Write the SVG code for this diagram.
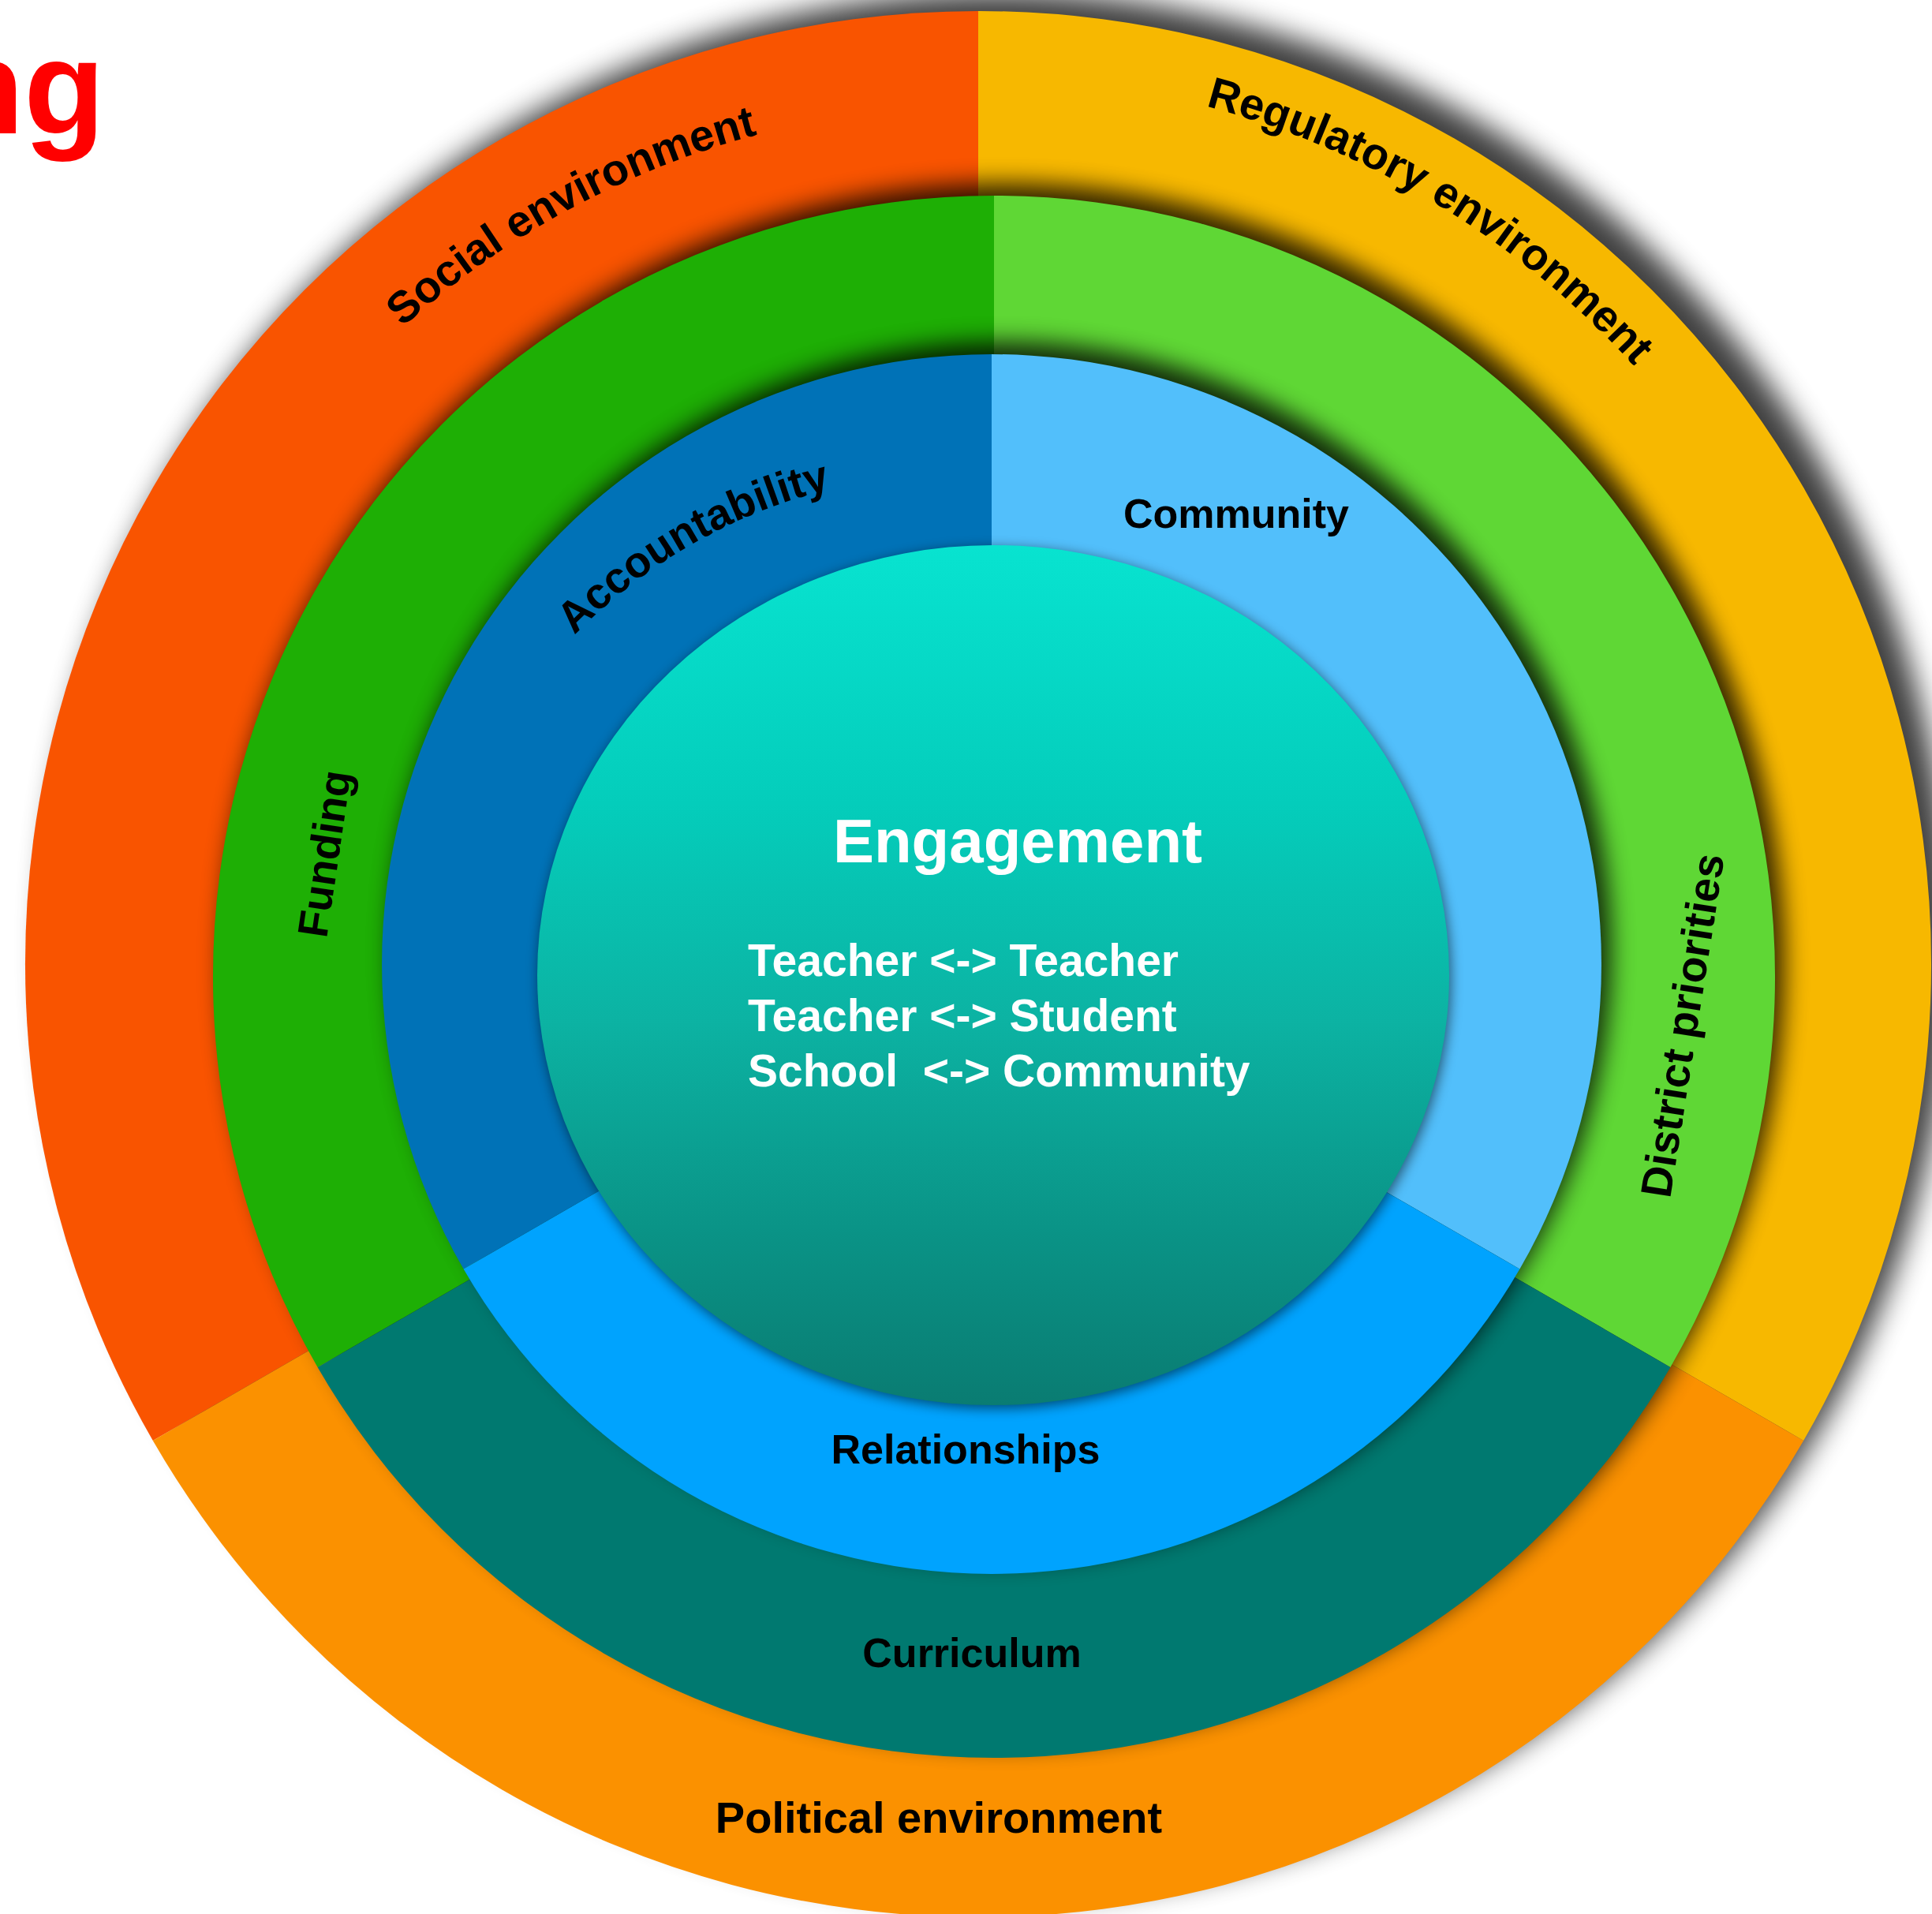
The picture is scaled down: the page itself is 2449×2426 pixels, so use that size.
<svg xmlns="http://www.w3.org/2000/svg" width="2449" height="2426" viewBox="0 0 2449 2426">
<defs>
<style>
.lbl{font-family:"Liberation Sans",Arial,Helvetica,sans-serif;font-weight:bold;fill:#000}
.wht{font-family:"Liberation Sans",Arial,Helvetica,sans-serif;font-weight:bold;fill:#fff}
.shd{fill:#000}
</style>
<filter id="b18" x="-10%" y="-10%" width="120%" height="120%"><feGaussianBlur stdDeviation="18"/></filter>
<filter id="b14" x="-10%" y="-10%" width="120%" height="120%"><feGaussianBlur stdDeviation="15"/></filter>
<filter id="b8" x="-10%" y="-10%" width="120%" height="120%"><feGaussianBlur stdDeviation="8"/></filter>
<linearGradient id="core" x1="0" y1="692" x2="0" y2="1781" gradientUnits="userSpaceOnUse">
<stop offset="0" stop-color="#08E3D0"/>
<stop offset="0.3" stop-color="#04CDBB"/>
<stop offset="0.55" stop-color="#0CB3A3"/>
<stop offset="0.8" stop-color="#0A9386"/>
<stop offset="1" stop-color="#0A7C72"/>
</linearGradient>
<path id="arcSocial" d="M 227.7 823.2 A 1088 1088 0 0 1 1456.9 155.9"/>
<path id="arcRegulatory" d="M 1068.9 110 A 1125 1125 0 0 1 2305.3 860.4"/>
<path id="arcAccount" d="M 577 1044.7 A 680 680 0 0 1 1336 610.9"/>
</defs>
<rect width="2449" height="2426" fill="#fff"/>

<text class="lbl" x="133" y="169" text-anchor="end" font-size="168" style="fill:#FF0000">ng</text>

<circle class="shd" cx="1266" cy="1198" r="1208" opacity="0.75" filter="url(#b18)"/>
<g id="social-environment">
<path d="M 1240 1222 L 193.8 1826 A 1208 1208 0 0 1 1240 14 Z" fill="#F95400"/>
<text class="lbl" font-size="56"><textPath href="#arcSocial" startOffset="50%" text-anchor="middle">Social environment</textPath></text>
</g>
<g id="regulatory-environment">
<path d="M 1240 1222 L 1240 14 A 1208 1208 0 0 1 2286.2 1826 Z" fill="#F7B800"/>
<text class="lbl" font-size="56"><textPath href="#arcRegulatory" startOffset="50%" text-anchor="middle">Regulatory environment</textPath></text>
</g>
<g id="political-environment">
<path d="M 1240 1222 L 2286.2 1826 A 1208 1208 0 0 1 193.8 1826 Z" fill="#FB9100"/>
<text class="lbl" x="1190" y="2323" text-anchor="middle" font-size="56">Political environment</text>
</g>

<circle class="shd" cx="1272" cy="1222" r="990" opacity="0.8" filter="url(#b14)"/>
<g id="funding">
<path d="M 1260 1238 L 402.6 1733 A 990 990 0 0 1 1260 248 Z" fill="#1EAF05"/>
<text class="lbl" font-size="54" transform="translate(414 1190) rotate(-81.6)">Funding</text>
</g>
<g id="district-priorities">
<path d="M 1260 1238 L 1260 248 A 990 990 0 0 1 2117.4 1733 Z" fill="#5FD735"/>
<text class="lbl" font-size="55" transform="translate(2117 1520) rotate(-81)">District priorities</text>
</g>
<g id="curriculum">
<path d="M 1260 1238 L 2117.4 1733 A 990 990 0 0 1 402.6 1733 Z" fill="#007970"/>
<text class="lbl" x="1232" y="2113" text-anchor="middle" font-size="52">Curriculum</text>
</g>

<circle class="shd" cx="1269" cy="1206" r="773" opacity="0.8" filter="url(#b14)"/>
<g id="accountability">
<path d="M 1257 1222 L 587.6 1608.5 A 773 773 0 0 1 1257 449 Z" fill="#0072B7"/>
<text class="lbl" font-size="55"><textPath href="#arcAccount" startOffset="50%" text-anchor="middle">Accountability</textPath></text>
</g>
<g id="community">
<path d="M 1257 1222 L 1257 449 A 773 773 0 0 1 1926.4 1608.5 Z" fill="#52BFFB"/>
<text class="lbl" x="1567" y="669" text-anchor="middle" font-size="52">Community</text>
</g>
<g id="relationships">
<path d="M 1257 1222 L 1926.4 1608.5 A 773 773 0 0 1 587.6 1608.5 Z" fill="#00A3FE"/>
<text class="lbl" x="1224" y="1855" text-anchor="middle" font-size="52">Relationships</text>
</g>

<ellipse class="shd" cx="1261" cy="1240" rx="578" ry="545" opacity="0.55" filter="url(#b8)"/>
<g id="engagement">
<ellipse cx="1259" cy="1236" rx="578" ry="545" fill="url(#core)"/>
<text class="wht" x="1290" y="1093" text-anchor="middle" font-size="78">Engagement</text>
<text class="wht" font-size="57" xml:space="preserve" style="white-space:pre">
<tspan x="948" y="1237">Teacher &lt;-&gt; Teacher</tspan>
<tspan x="948" y="1307">Teacher &lt;-&gt; Student</tspan>
<tspan x="948" y="1377">School  &lt;-&gt; Community</tspan>
</text>
</g>
</svg>
